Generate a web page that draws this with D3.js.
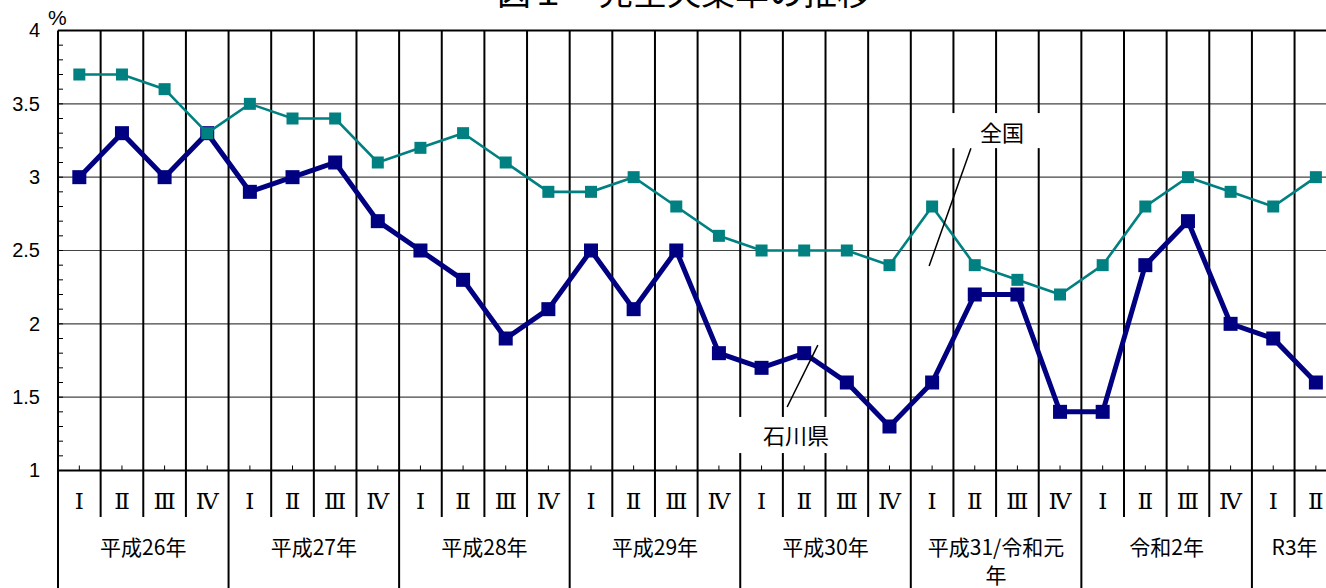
<!DOCTYPE html>
<html><head><meta charset="utf-8">
<script src="https://cdn.jsdelivr.net/npm/d3@7"></script>
<style>
html,body{margin:0;padding:0;background:#fff;overflow:hidden;}
svg{display:block;}
</style></head>
<body>
<svg id="chart" width="1326" height="588"></svg>
<script>
// ---- data ----
const title = "図１　完全失業率の推移";
const quarters = ["Ⅰ","Ⅱ","Ⅲ","Ⅳ"];
const years = ["平成26年","平成27年","平成28年","平成29年","平成30年",["平成31/令和元","年"],"令和2年","R3年"];
const yearQuarterCounts = [4,4,4,4,4,4,4,2];
const national = [3.7,3.7,3.6,3.3, 3.5,3.4,3.4,3.1, 3.2,3.3,3.1,2.9, 2.9,3.0,2.8,2.6, 2.5,2.5,2.5,2.4, 2.8,2.4,2.3,2.2, 2.4,2.8,3.0,2.9, 2.8,3.0];
const ishikawa = [3.0,3.3,3.0,3.3, 2.9,3.0,3.1,2.7, 2.5,2.3,1.9,2.1, 2.5,2.1,2.5,1.8, 1.7,1.8,1.6,1.3, 1.6,2.2,2.2,1.4, 1.4,2.4,2.7,2.0, 1.9,1.6];
const yTicks = [1,1.5,2,2.5,3,3.5,4];
const yUnit = "%";
const seriesNames = ["全国","石川県"];

(function(){
// ---- layout ----
const svg = d3.select("#chart");
const left = 58, bandW = 42.64, nCat = 30;
const plotTop = 30.5, plotBottom = 470.5;
const x = d3.scaleLinear().domain([0, nCat]).range([left, left + nCat*bandW]);
const y = d3.scaleLinear().domain([1,4]).range([plotBottom, plotTop]);
const jp = "'Noto Sans CJK JP','Noto Sans',sans-serif";

// title (partly above the picture's top edge, as in the reference)
svg.append("text").attr("x",684).attr("y",5).attr("text-anchor","middle")
  .attr("font-family",jp).attr("font-size",34).attr("fill","#000").text(title);

// horizontal gridlines
svg.append("g").selectAll("line").data(yTicks.filter(v=>v>1&&v<4)).join("line")
  .attr("x1",left).attr("x2",x(nCat)).attr("y1",d=>y(d)).attr("y2",d=>y(d))
  .attr("stroke","#444").attr("stroke-width",1.2);

// vertical category boundary lines
const bounds = d3.range(1, nCat+1);
let cum = 0; const yearBounds = new Set([0]);
yearQuarterCounts.forEach(c=>{cum+=c; yearBounds.add(cum);});
svg.append("g").selectAll("line").data(bounds).join("line")
  .attr("x1",d=>x(d)).attr("x2",d=>x(d)).attr("y1",plotTop)
  .attr("y2",d=>yearBounds.has(d)?588:517)
  .attr("stroke","#000").attr("stroke-width",2);

// annotation boxes (white) - positioned in data space
const annots = [
  {name:seriesNames[0], box:[20.87,23.17,3.437,3.198], c:[22.14,3.30], lead:[[21.41,3.198],[20.43,2.394]]},
  {name:seriesNames[1], box:[15.88,18.22,1.365,1.119], c:[17.31,1.235], lead:[[17.82,1.855],[17.10,1.433]]}
];
svg.append("g").selectAll("rect").data(annots).join("rect")
  .attr("x",d=>x(d.box[0])).attr("width",d=>x(d.box[1])-x(d.box[0]))
  .attr("y",d=>y(d.box[2])).attr("height",d=>y(d.box[3])-y(d.box[2]))
  .attr("fill","#fff");

// top border
svg.append("line").attr("x1",left).attr("x2",x(nCat)).attr("y1",plotTop).attr("y2",plotTop)
  .attr("stroke","#000").attr("stroke-width",2);

// left axis
const yAxis = d3.axisLeft(y).tickValues(yTicks).tickSize(0).tickPadding(18).tickFormat(d3.format("~g"));
const ga = svg.append("g").attr("transform",`translate(${left},0)`).call(yAxis);
ga.select(".domain").remove();
ga.selectAll("text").attr("font-family","'Liberation Sans',Arial,sans-serif").attr("font-size",20).attr("fill","#000");
svg.append("line").attr("x1",left).attr("x2",left).attr("y1",plotTop).attr("y2",588).attr("stroke","#000").attr("stroke-width",2);
// minor y ticks
svg.append("g").selectAll("line").data(d3.range(11,40).map(v=>v/10)).join("line")
  .attr("x1",left).attr("x2",left+5).attr("y1",d=>y(d)).attr("y2",d=>y(d))
  .attr("stroke","#000").attr("stroke-width",1);
svg.append("text").attr("x",48).attr("y",25).attr("font-family","'Liberation Sans',Arial,sans-serif")
  .attr("font-size",21).attr("fill","#000").text(yUnit);

// bottom axis
svg.append("line").attr("x1",left).attr("x2",x(nCat)).attr("y1",plotBottom).attr("y2",plotBottom)
  .attr("stroke","#000").attr("stroke-width",2);
svg.append("g").selectAll("line").data(d3.range(nCat)).join("line")
  .attr("x1",d=>x(d+0.5)).attr("x2",d=>x(d+0.5)).attr("y1",plotBottom).attr("y2",plotBottom-5)
  .attr("stroke","#000").attr("stroke-width",1);

// quarter labels
svg.append("g").selectAll("text").data(d3.range(nCat)).join("text")
  .attr("x",d=>x(d+0.5)).attr("y",509).attr("text-anchor","middle")
  .attr("font-family","'DejaVu Serif','Liberation Serif',serif").attr("font-size",23).attr("fill","#000")
  .text(d=>quarters[d%4]);

// year labels
let start = 0;
const yearPos = years.map((lab,i)=>{const s=start; start+=yearQuarterCounts[i]; return {lab, c:s+yearQuarterCounts[i]/2};});
const yl = svg.append("g").selectAll("text").data(yearPos).join("text")
  .attr("x",d=>x(d.c)).attr("y",555).attr("text-anchor","middle")
  .attr("font-family",jp).attr("font-size",21).attr("fill","#000");
yl.each(function(d){
  const t = d3.select(this);
  const lines = Array.isArray(d.lab)?d.lab:[d.lab];
  lines.forEach((s,k)=>t.append("tspan").attr("x",x(d.c)).attr("dy",k?28:0).text(s));
});

// series
function drawSeries(vals,color,lw,ms){
  const line = d3.line().x((d,i)=>x(i+0.5)).y(d=>y(d));
  svg.append("path").datum(vals).attr("d",line).attr("fill","none")
    .attr("stroke",color).attr("stroke-width",lw).attr("stroke-linejoin","miter");
  svg.append("g").selectAll("rect").data(vals).join("rect")
    .attr("x",(d,i)=>x(i+0.5)-ms/2).attr("y",d=>y(d)-ms/2)
    .attr("width",ms).attr("height",ms).attr("fill",color);
}
drawSeries(ishikawa,"#000080",5,14);
drawSeries(national,"#008080",2.6,12);

// leader lines and labels
svg.append("g").selectAll("line").data(annots).join("line")
  .attr("x1",d=>x(d.lead[0][0])).attr("y1",d=>y(d.lead[0][1]))
  .attr("x2",d=>x(d.lead[1][0])).attr("y2",d=>y(d.lead[1][1]))
  .attr("stroke","#000").attr("stroke-width",1.5);
svg.append("g").selectAll("text").data(annots).join("text")
  .attr("x",d=>x(d.c[0])).attr("y",d=>y(d.c[1])).attr("dy","0.36em").attr("text-anchor","middle")
  .attr("font-family",jp).attr("font-size",22).attr("fill","#000").text(d=>d.name);
})();
</script>
</body></html>
